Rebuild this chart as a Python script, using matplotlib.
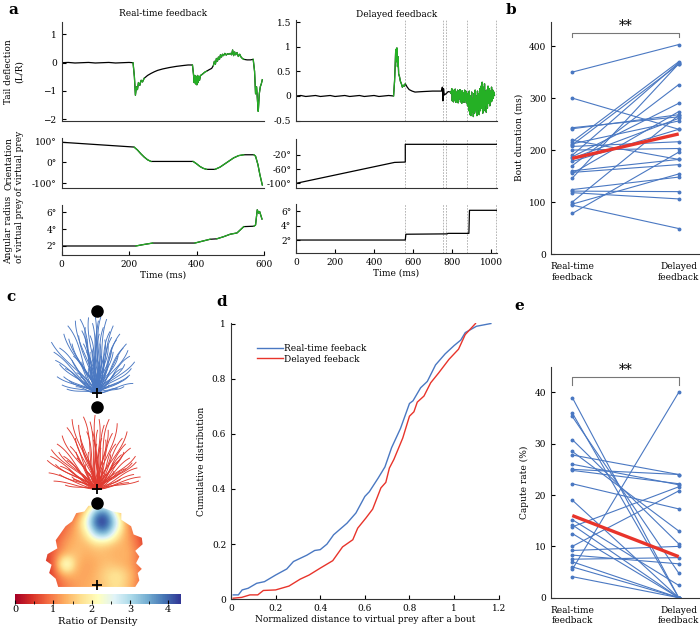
import matplotlib
matplotlib.use('Agg')
import matplotlib.pyplot as plt
import numpy as np
from matplotlib.patches import Polygon
from matplotlib.ticker import MultipleLocator

plt.rcParams['font.family'] = ['DejaVu Serif']
plt.rcParams['font.size'] = 6.5
plt.rcParams['axes.linewidth'] = 0.8
plt.rcParams['axes.edgecolor'] = '#333333'
plt.rcParams['xtick.direction'] = 'in'
plt.rcParams['ytick.direction'] = 'in'
plt.rcParams['xtick.major.size'] = 3
plt.rcParams['ytick.major.size'] = 3

GREEN = '#25b025'
BLUE = '#4a78c2'
RED = '#e8342b'
GRID = '#aaaaaa'
FS = 6.5

# ---------------- panel a data ----------------
# real-time feedback: tail deflection (time ms, value)
rt_tail = [(0, 0.0), (20, 0.01), (40, -0.01), (60, 0.0), (80, 0.01), (100, -0.01), (120, 0.0), (140, 0.01),
           (160, -0.01), (180, 0.0), (200, 0.01), (212, 0.0), (216, -0.5), (219, -1.15), (222, -0.85),
           (225, -0.95), (228, -0.7), (232, -0.8), (236, -0.62), (240, -0.68), (245, -0.55), (250, -0.5),
           (255, -0.45), (265, -0.38), (275, -0.32), (285, -0.27), (300, -0.22), (320, -0.17), (340, -0.13),
           (360, -0.1), (375, -0.08), (388, -0.08), (391, -0.4), (393, -0.7), (395, -0.45), (397, -0.75),
           (399, -0.5), (401, -0.78), (403, -0.45), (405, -0.7), (407, -0.48), (409, -0.62), (412, -0.45),
           (416, -0.42), (420, -0.38), (425, -0.33), (430, -0.3), (437, -0.25), (445, -0.2), (450, -0.1),
           (453, 0.05), (456, -0.05), (459, 0.15), (462, 0.05), (465, 0.2), (468, 0.12), (471, 0.28),
           (474, 0.2), (477, 0.3), (480, 0.25), (484, 0.33), (488, 0.27), (492, 0.32), (496, 0.3),
           (500, 0.33), (504, 0.28), (507, 0.45), (510, 0.25), (513, 0.38), (516, 0.28), (520, 0.36),
           (524, 0.22), (528, 0.3), (532, 0.2), (536, 0.15), (540, 0.12), (550, 0.1), (560, 0.1),
           (568, 0.12), (572, -0.3), (575, -1.1), (578, -0.85), (581, -1.4), (583, -1.72), (586, -1.1),
           (589, -0.85), (592, -0.75), (595, -0.6)]
rt_tail_green = [(212, 245), (388, 430), (450, 540), (568, 595)]

rt_orient = [(0, 97), (215, 74), (225, 60), (235, 42), (245, 26), (255, 13), (265, 5), (390, 5),
             (400, -6), (410, -19), (420, -28), (430, -33), (455, -33), (470, -22), (490, 0), (510, 22),
             (525, 33), (540, 37), (570, 37), (575, 30), (582, -10), (588, -60), (595, -108)]
rt_orient_green = [(215, 265), (390, 430), (455, 540), (570, 595)]

rt_radius = [(0, 2.0), (220, 2.0), (240, 2.15), (270, 2.35), (395, 2.35), (420, 2.6), (440, 2.8),
             (460, 2.85), (480, 3.1), (500, 3.4), (520, 3.55), (540, 4.3), (570, 4.35), (575, 4.5),
             (580, 6.3), (584, 5.9), (587, 6.1), (594, 5.2)]
rt_radius_green = [(220, 270), (395, 440), (460, 540), (570, 594)]

# delayed feedback
dl_tail = [(0, 0.0), (25, 0.01), (50, -0.01), (75, 0.0), (100, 0.01), (125, -0.01), (150, 0.0),
           (175, 0.01), (200, -0.01), (225, 0.0), (250, 0.01), (275, -0.01), (300, 0.0), (325, 0.01),
           (350, -0.01), (375, 0.0), (400, 0.01), (425, -0.01), (450, 0.0), (475, 0.01), (500, 0.0),
           (505, 0.3), (508, 0.6), (511, 0.95), (514, 0.7), (517, 0.98), (520, 0.6), (523, 0.8),
           (526, 0.45), (530, 0.4), (535, 0.3), (540, 0.25), (545, 0.18), (550, 0.22), (555, 0.2),
           (560, 0.25), (570, 0.18), (580, 0.13), (595, 0.1), (610, 0.08), (650, 0.09), (700, 0.1),
           (745, 0.1), (750, 0.18), (753, -0.1), (756, 0.15), (760, 0.02), (770, 0.05), (780, 0.09),
           (792, 0.08)]
dl_noise_start = 795
dl_noise_step = 3
dl_noise = [0.05, 0.15, -0.1, 0.12, -0.12, 0.1, -0.08, 0.14, -0.13, 0.08, -0.1, 0.12, -0.14, 0.1,
            -0.06, 0.13, -0.12, 0.09, -0.15, 0.11, -0.1, 0.07, -0.13, 0.12, -0.09, 0.1, -0.14, 0.06,
            -0.2, 0.05, -0.3, 0.1, -0.38, 0.0, -0.4, 0.08, -0.33, -0.05, -0.42, 0.05, -0.35, 0.12, -0.3,
            0.0, -0.4, 0.1, -0.28, 0.05, -0.38, 0.15, -0.3, 0.2, -0.25, 0.28, -0.35, 0.18, -0.3, 0.25,
            -0.2, 0.1, -0.33, 0.12, -0.25, 0.2, -0.15, 0.15, -0.2, 0.1, -0.12, 0.18, -0.1, 0.12, -0.05,
            0.08, 0.02]
dl_tail_green = [(500, 560), (792, 1025)]

dl_orient = [(0, -100), (505, -41), (560, -40), (560, 10), (1028, 10)]
dl_radius = [(0, 2.0), (560, 2.0), (563, 2.8), (775, 2.85), (778, 2.92), (886, 2.92), (889, 6.1), (1028, 6.1)]
dl_events = [560, 755, 768, 878, 1025]

# ---------------- panel b / e data ----------------
b_real = [350, 300, 243, 241, 219, 216, 212, 210, 207, 200, 190, 187, 184, 178, 170, 160, 157, 155,
          146, 124, 121, 118, 100, 96, 94, 78]
b_delayed = [403, 240, 264, 268, 182, 370, 256, 365, 216, 203, 368, 290, 261, 240, 326, 182, 172, 274,
             366, 148, 120, 106, 267, 154, 49, 196]
b_mean = [184, 231]

e_real = [39, 36, 35.3, 30.8, 28.5, 27.8, 26, 25, 24.8, 22.2, 19, 15.2, 14.2, 13.8, 12.5, 10, 9.2,
          8.3, 7.5, 7, 6, 5.5, 4.1]
e_delayed = [0, 0, 4.8, 10.5, 13, 24, 22, 24, 22.2, 17.3, 0, 2.4, 0, 21.6, 0, 20.8, 10, 6.6, 7.8,
             0, 0, 40, 0]
e_mean = [16, 8]
pair_labels = ['Real-time\nfeedback', 'Delayed\nfeedback']

# ---------------- panel d data ----------------
d_blue_x = [0.01, 0.033, 0.05, 0.077, 0.115, 0.15, 0.2, 0.25, 0.28, 0.34, 0.375, 0.4, 0.43, 0.46,
            0.52, 0.56, 0.6, 0.62, 0.66, 0.69, 0.72, 0.76, 0.8, 0.816, 0.85, 0.88, 0.917, 0.96, 1.0,
            1.03, 1.05, 1.1, 1.165]
d_blue_y = [0.016, 0.016, 0.034, 0.04, 0.058, 0.064, 0.088, 0.11, 0.137, 0.16, 0.177, 0.18, 0.2,
            0.234, 0.276, 0.313, 0.373, 0.39, 0.44, 0.48, 0.55, 0.62, 0.71, 0.72, 0.767, 0.79, 0.85,
            0.89, 0.92, 0.94, 0.967, 0.99, 1.0]
d_red_x = [0.01, 0.048, 0.085, 0.12, 0.145, 0.2, 0.26, 0.31, 0.35, 0.4, 0.456, 0.5, 0.546, 0.568,
           0.605, 0.635, 0.672, 0.694, 0.71, 0.73, 0.77, 0.8, 0.82, 0.835, 0.865, 0.895, 0.93, 0.977,
           1.02, 1.05, 1.096]
d_red_y = [0.004, 0.007, 0.016, 0.016, 0.032, 0.034, 0.048, 0.073, 0.088, 0.113, 0.14, 0.19, 0.216,
           0.258, 0.295, 0.327, 0.404, 0.424, 0.476, 0.507, 0.585, 0.664, 0.68, 0.715, 0.737, 0.785,
           0.82, 0.87, 0.907, 0.96, 1.0]

# ---------------- panel c data ----------------
# trajectory end points (x, y) with prey at (0, 1), plus a wiggle size
blue_paths = [
    (-0.55, 0.62, 0.06), (-0.50, 0.40, -0.05), (-0.48, 0.20, 0.04), (-0.45, 0.55, -0.08), (-0.42, 0.10, 0.03),
    (-0.40, 0.72, 0.07), (-0.38, 0.30, -0.05), (-0.35, 0.82, -0.09), (-0.33, 0.15, 0.04), (-0.30, 0.60, 0.06),
    (-0.28, 0.45, -0.07), (-0.26, 0.88, 0.08), (-0.24, 0.25, -0.04), (-0.22, 0.70, 0.05), (-0.20, 0.90, -0.1),
    (-0.18, 0.38, 0.06), (-0.16, 0.60, -0.05), (-0.14, 0.80, 0.08), (-0.12, 0.50, -0.06), (-0.10, 0.92, 0.07),
    (-0.08, 0.70, -0.08), (-0.06, 0.30, 0.05), (-0.05, 0.85, -0.06), (-0.04, 0.55, 0.08), (-0.02, 0.95, -0.05),
    (0.00, 0.75, 0.06), (0.01, 0.40, -0.07), (0.02, 0.88, 0.05), (0.04, 0.60, -0.06), (0.05, 0.93, 0.08),
    (0.06, 0.45, -0.05), (0.08, 0.80, 0.07), (0.10, 0.65, -0.08), (0.12, 0.90, 0.06), (0.14, 0.35, -0.05),
    (0.16, 0.75, 0.08), (0.18, 0.55, -0.07), (0.20, 0.82, 0.05), (0.22, 0.25, -0.04), (0.24, 0.65, 0.07),
    (0.26, 0.45, -0.06), (0.28, 0.72, 0.08), (0.30, 0.15, -0.03), (0.32, 0.55, 0.06), (0.34, 0.35, -0.07),
    (0.36, 0.60, 0.05), (0.38, 0.20, -0.05), (0.40, 0.45, 0.07), (0.42, 0.30, -0.06), (0.44, 0.12, 0.04),
    (0.46, 0.38, -0.05), (-0.36, 0.05, 0.03), (-0.25, 0.08, -0.03), (-0.15, 0.12, 0.04), (0.15, 0.10, -0.03),
    (0.25, 0.06, 0.03), (0.33, 0.08, -0.04), (-0.05, 0.20, 0.04), (0.07, 0.22, -0.04), (-0.30, 0.40, 0.05),
    (0.20, 0.50, -0.05), (-0.10, 0.30, 0.06), (0.10, 0.28, -0.05), (0.00, 0.60, 0.07), (-0.45, 0.35, 0.05),
    (-0.20, 0.20, -0.04), (0.30, 0.30, 0.05), (-0.12, 0.66, 0.05), (0.14, 0.58, -0.06), (-0.02, 0.45, 0.05),
    (-0.52, 0.50, -0.05), (-0.34, 0.66, 0.06), (-0.18, 0.76, -0.07), (0.18, 0.68, 0.06), (0.38, 0.52, -0.06),
    (-0.40, 0.20, 0.04), (0.40, 0.22, -0.04), (-0.08, 0.50, 0.05), (0.08, 0.40, -0.05), (0.03, 0.72, 0.06)]
red_paths = [
    (-0.60, 0.35, 0.05), (-0.58, 0.20, -0.04), (-0.55, 0.48, 0.06), (-0.52, 0.10, -0.03), (-0.50, 0.30, 0.05),
    (-0.48, 0.55, -0.07), (-0.45, 0.18, 0.04), (-0.42, 0.65, 0.08), (-0.40, 0.40, -0.05), (-0.38, 0.05, 0.03),
    (-0.36, 0.75, -0.07), (-0.34, 0.25, 0.05), (-0.32, 0.52, -0.06), (-0.30, 0.85, 0.08), (-0.28, 0.12, -0.03),
    (-0.26, 0.62, 0.06), (-0.24, 0.38, -0.05), (-0.22, 0.78, 0.07), (-0.20, 0.20, -0.04), (-0.18, 0.55, 0.06),
    (-0.16, 0.88, -0.08), (-0.14, 0.30, 0.05), (-0.12, 0.70, -0.06), (-0.10, 0.45, 0.07), (-0.08, 0.82, -0.05),
    (-0.06, 0.15, 0.04), (-0.04, 0.60, -0.07), (-0.02, 0.90, 0.05), (0.00, 0.35, -0.05), (0.01, 0.72, 0.06),
    (0.03, 0.85, -0.06), (0.05, 0.50, 0.07), (0.07, 0.25, -0.04), (0.09, 0.78, 0.06), (0.11, 0.60, -0.07),
    (0.13, 0.10, 0.03), (0.15, 0.85, 0.08), (0.17, 0.42, -0.05), (0.19, 0.68, 0.06), (0.21, 0.22, -0.04),
    (0.23, 0.55, 0.07), (0.25, 0.80, -0.08), (0.27, 0.35, 0.05), (0.29, 0.12, -0.03), (0.31, 0.62, 0.06),
    (0.33, 0.45, -0.06), (0.35, 0.25, 0.05), (0.37, 0.70, -0.07), (0.39, 0.08, 0.03), (0.41, 0.50, 0.06),
    (0.43, 0.32, -0.05), (0.45, 0.18, 0.04), (0.47, 0.40, -0.06), (0.49, 0.26, 0.05), (0.51, 0.10, -0.03),
    (0.53, 0.15, 0.04), (-0.44, 0.28, -0.05), (-0.25, 0.45, 0.05), (0.20, 0.32, -0.05), (0.35, 0.55, 0.05),
    (-0.10, 0.20, -0.04), (0.10, 0.18, 0.04), (-0.30, 0.15, 0.04), (0.28, 0.20, -0.04), (0.00, 0.55, 0.06),
    (-0.56, 0.40, -0.05), (-0.46, 0.45, 0.06), (-0.36, 0.35, -0.05), (0.40, 0.38, 0.05), (0.48, 0.33, -0.05),
    (-0.20, 0.65, 0.06), (0.14, 0.72, -0.06), (0.30, 0.42, 0.05), (-0.05, 0.70, -0.06), (0.06, 0.62, 0.05)]

# density ratio grid, rows from top (y=1) to bottom (y=0), cols x=-0.625..0.625
ratio_grid = [
    [0.2, 0.3, 0.4, 0.5, 0.9, 1.9, 2.1, 1.0, 0.5, 0.3, 0.2],
    [0.2, 0.3, 0.5, 0.8, 1.8, 3.8, 4.0, 2.0, 0.8, 0.4, 0.2],
    [0.2, 0.5, 0.8, 1.2, 2.4, 4.4, 4.4, 2.8, 1.1, 0.6, 0.2],
    [0.3, 0.6, 1.0, 1.3, 1.8, 3.4, 3.6, 2.0, 1.2, 0.8, 0.3],
    [0.4, 0.8, 1.2, 1.4, 1.4, 1.7, 1.6, 1.4, 1.3, 0.9, 0.4],
    [0.5, 0.9, 1.3, 1.5, 1.3, 1.4, 1.4, 1.3, 1.4, 1.0, 0.5],
    [0.4, 0.9, 3.0, 1.4, 1.2, 1.3, 1.5, 1.4, 1.3, 1.0, 0.5],
    [0.3, 0.8, 1.3, 1.3, 1.2, 1.4, 1.7, 1.9, 1.6, 1.1, 0.5],
    [0.3, 0.7, 1.0, 1.2, 1.3, 1.4, 1.6, 1.8, 1.5, 1.0, 0.5],
]
ratio_outline = [(-0.47, -0.02), (0.47, -0.02), (0.52, 0.06), (0.5, 0.15), (0.55, 0.2), (0.48, 0.27),
                 (0.52, 0.35), (0.47, 0.42), (0.56, 0.5), (0.55, 0.58), (0.45, 0.62), (0.42, 0.72),
                 (0.3, 0.8), (0.3, 0.88), (0.2, 0.9), (0.12, 0.93), (0.0, 0.97), (-0.1, 0.97),
                 (-0.15, 0.9), (-0.25, 0.88), (-0.3, 0.78), (-0.38, 0.72), (-0.45, 0.62), (-0.5, 0.55),
                 (-0.48, 0.45), (-0.6, 0.38), (-0.62, 0.3), (-0.55, 0.25), (-0.58, 0.15), (-0.5, 0.08)]

W, H = 700, 630
fig = plt.figure(figsize=(7, 6.3), dpi=100)


def add_ax(l, t, r, b):
    return fig.add_axes([l / W, 1 - b / H, (r - l) / W, (b - t) / H])


def clean(ax):
    ax.spines['top'].set_visible(False)
    ax.spines['right'].set_visible(False)


def trace(ax, pairs, green):
    t = np.array([p[0] for p in pairs], float)
    v = np.array([p[1] for p in pairs], float)
    ax.plot(t, v, color='black', lw=0.9)
    for a, b in green:
        m = (t >= a) & (t <= b)
        ax.plot(t[m], v[m], color=GREEN, lw=0.9)


# ----- a, real-time -----
a11 = add_ax(61.5, 21.7, 264, 120.7)
a21 = add_ax(61.5, 138.3, 264, 187.7)
a31 = add_ax(61.5, 205, 264, 255)
trace(a11, rt_tail, rt_tail_green)
trace(a21, rt_orient, rt_orient_green)
trace(a31, rt_radius, rt_radius_green)
a11.set_ylim(-2.05, 1.45)
a11.set_yticks([-2, -1, 0, 1])
a21.set_ylim(-121, 116)
a21.set_yticks([-100, 0, 100])
a21.set_yticklabels(['-100°', '0°', '100°'])
a31.set_ylim(0.93, 6.87)
a31.set_yticks([2, 4, 6])
a31.set_yticklabels(['2°', '4°', '6°'])
for ax in (a11, a21, a31):
    clean(ax)
    ax.set_xlim(0, 600)
a11.set_xticks([])
a21.set_xticks([])
a31.set_xticks([0, 200, 400, 600])
a31.set_xlabel('Time (ms)', fontsize=FS, labelpad=1)
a11.set_title('Real-time feedback', fontsize=FS, pad=4)
for ax, lab in [(a11, 'Tail deflection\n(L/R)'), (a21, 'Orientation\nof virtual prey'),
                (a31, 'Angular radius\nof virtual prey')]:
    ax.set_ylabel(lab, fontsize=FS, linespacing=1.25)
    ax.yaxis.set_label_coords((24 - 61.5) / 202.5, 0.5)

# ----- a, delayed -----
a12 = add_ax(296, 20, 497, 120.5)
a22 = add_ax(296, 139, 497, 188.3)
a32 = add_ax(296, 204, 497, 253.3)
noise_t = dl_noise_start + dl_noise_step * np.arange(len(dl_noise))
dl_tail_all = dl_tail + list(zip(noise_t, dl_noise))
for ax in (a12, a22, a32):
    for ev in dl_events:
        ax.axvline(ev, color=GRID, lw=0.6, ls=(0, (2, 1.5)), zorder=0)
trace(a12, dl_tail_all, dl_tail_green)
trace(a22, dl_orient, [])
trace(a32, dl_radius, [])
a12.set_ylim(-0.5, 1.55)
a12.set_yticks([-0.5, 0, 0.5, 1, 1.5])
a12.set_yticklabels(['-0.5', '0', '0.5', '1', '1.5'])
a22.set_ylim(-114, 25)
a22.set_yticks([-100, -60, -20])
a22.set_yticklabels(['-100°', '-60°', '-20°'])
a32.set_ylim(0.17, 6.97)
a32.set_yticks([2, 4, 6])
a32.set_yticklabels(['2°', '4°', '6°'])
for ax in (a12, a22, a32):
    clean(ax)
    ax.set_xlim(0, 1030)
a12.set_xticks([])
a22.set_xticks([])
a32.set_xticks([0, 200, 400, 600, 800, 1000])
a32.set_xlabel('Time (ms)', fontsize=FS, labelpad=1)
a12.set_title('Delayed feedback', fontsize=FS, pad=2.5)


# ----- b and e -----
def paired(ax, real, delayed, mean, ymax, yticks, bracket, ylabel):
    for r, d in zip(real, delayed):
        ax.plot([0, 1], [r, d], color=BLUE, lw=0.8, marker='o', ms=1.8)
    ax.plot([0, 1], mean, color=RED, lw=2.4, solid_capstyle='butt')
    lo, hi = bracket
    ax.plot([0, 0, 1, 1], [lo, hi, hi, lo], color='#777777', lw=0.8)
    ax.text(0.5, hi, '**', ha='center', va='bottom', fontsize=10)
    ax.set_xlim(-0.2, 1.2)
    ax.set_ylim(0, ymax)
    ax.set_yticks(yticks)
    ax.set_xticks([0, 1])
    ax.set_xticklabels(pair_labels, fontsize=FS)
    ax.tick_params(axis='x', length=0, pad=6)
    ax.set_ylabel(ylabel, fontsize=FS)
    clean(ax)


ab = add_ax(551, 21.7, 700, 254)
paired(ab, b_real, b_delayed, b_mean, 447, [0, 100, 200, 300, 400], (418, 426), 'Bout duration (ms)')
ae = add_ax(551, 366.7, 700, 597.7)
paired(ae, e_real, e_delayed, e_mean, 45, [0, 10, 20, 30, 40], (41.4, 42.9), 'Capute rate (%)')

# ----- d -----
ad = add_ax(231, 322.7, 498.7, 599.3)
ad.plot(d_blue_x, d_blue_y, color=BLUE, lw=1.0, label='Real-time feeback')
ad.plot(d_red_x, d_red_y, color=RED, lw=1.0, label='Delayed feeback')
ad.set_xlim(0, 1.2)
ad.set_ylim(0, 1.003)
ad.set_xticks([0, 0.2, 0.4, 0.6, 0.8, 1.0, 1.2])
ad.set_xticklabels(['0', '0.2', '0.4', '0.6', '0.8', '1', '1.2'])
ad.set_yticks([0, 0.2, 0.4, 0.6, 0.8, 1.0])
ad.set_yticklabels(['0', '0.2', '0.4', '0.6', '0.8', '1'])
ad.set_xlabel('Normalized distance to virtual prey after a bout', fontsize=FS, labelpad=1)
ad.set_ylabel('Cumulative distribution', fontsize=FS)
ad.legend(loc='upper left', bbox_to_anchor=(0.085, 0.935), frameon=False, fontsize=FS,
          handlelength=2.8, handletextpad=0.1, labelspacing=0.15, borderaxespad=0)
clean(ad)


# ----- c -----
def traj_axes(cross_y):
    bottom = cross_y + 0.08 * 82
    return add_ax(96.7 - 0.7 * 82, bottom - 1.16 * 82, 96.7 + 0.7 * 82, bottom)


def draw_trajs(ax, paths, color):
    s = np.linspace(0, 1, 30)[:, None]
    for ex, ey, w in paths:
        L = np.hypot(ex, ey)
        nx, ny = ey / L, -ex / L
        p1 = np.array([ex / 3 + w * nx, ey / 3 + w * ny])
        p2 = np.array([2 * ex / 3 - w * nx, 2 * ey / 3 - w * ny])
        p3 = np.array([ex, ey])
        pts = 3 * (1 - s) ** 2 * s * p1 + 3 * (1 - s) * s ** 2 * p2 + s ** 3 * p3
        ax.plot(pts[:, 0], pts[:, 1], color=color, lw=0.65)


def prey_marks(ax):
    ax.plot(0, 1, 'o', color='black', ms=8)
    ax.plot(0, 0, '+', color='black', ms=7, mew=1.3)
    ax.set_xlim(-0.7, 0.7)
    ax.set_ylim(-0.08, 1.08)
    ax.axis('off')


ac1 = traj_axes(393.3)
draw_trajs(ac1, blue_paths, BLUE)
prey_marks(ac1)
ac2 = traj_axes(489.3)
draw_trajs(ac2, red_paths, '#e03a30')
prey_marks(ac2)
ac3 = traj_axes(585.3)
grid = np.array(ratio_grid)[::-1]
im = ac3.imshow(grid, cmap='RdYlBu', vmin=0, vmax=4.33, origin='lower', interpolation='bicubic',
                extent=[-0.6875, 0.6875, -0.0625, 1.0625], aspect='auto')
clip = Polygon(ratio_outline, closed=True, transform=ac3.transData, facecolor='none', edgecolor='none')
ac3.add_patch(clip)
im.set_clip_path(clip)
prey_marks(ac3)

cax = add_ax(15, 594.3, 181, 604)
cb = fig.colorbar(im, cax=cax, orientation='horizontal')
cb.set_ticks([0, 1, 2, 3, 4])
cb.ax.xaxis.set_minor_locator(MultipleLocator(0.5))
cb.outline.set_visible(False)
cb.ax.tick_params(labelsize=FS + 0.5, pad=1)
cb.set_label('Ratio of Density', fontsize=FS + 0.5, labelpad=2)

# panel letters
for lab, x, y in [('a', 8, 14), ('b', 506, 14), ('c', 6, 301), ('d', 216, 306), ('e', 514, 310)]:
    fig.text(x / W, 1 - y / H, lab, fontsize=11, fontweight='bold', va='baseline')

fig.savefig('out.png', dpi=100)
